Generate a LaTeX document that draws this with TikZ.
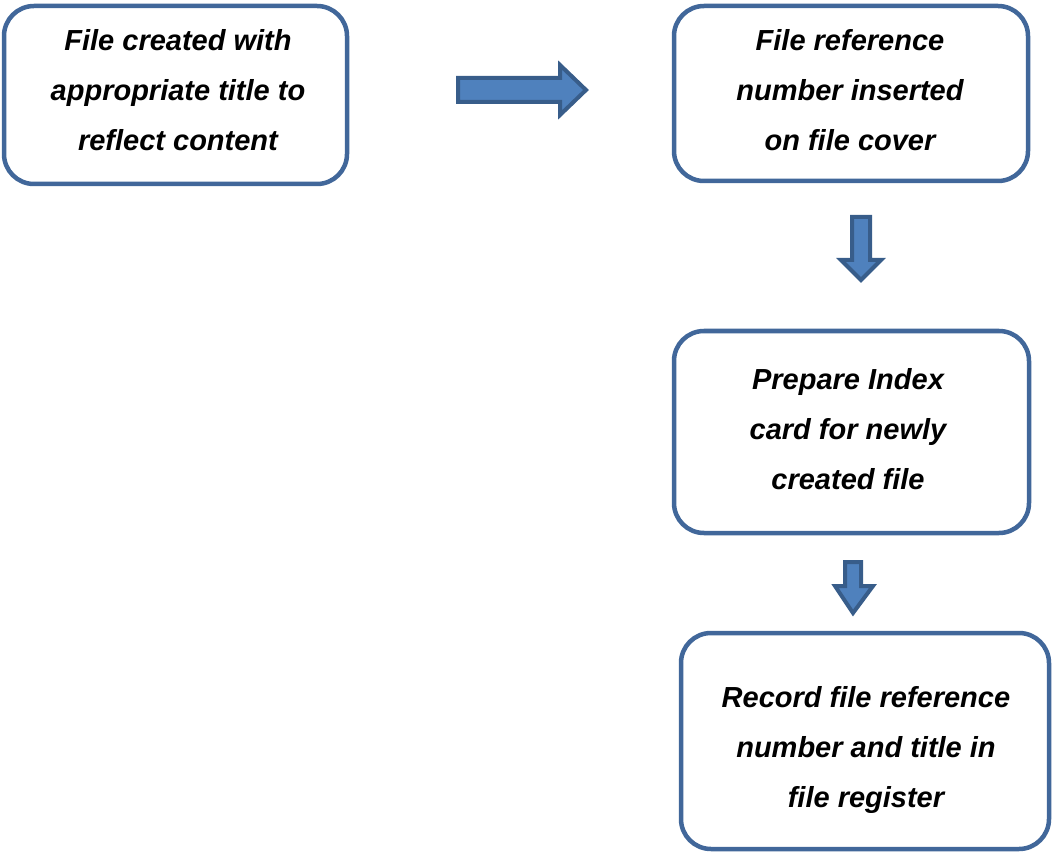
\documentclass[tikz,border=0pt]{standalone}
\usepackage{fontspec}
\setmainfont{Liberation Sans}
\definecolor{boxline}{HTML}{41679A}
\definecolor{arrowfill}{HTML}{4F81BD}
\definecolor{arrowline}{HTML}{385D8A}
\begin{document}
\begin{tikzpicture}[x=1pt,y=-1pt,
  stepbox/.style={draw=boxline, line width=4.5pt, rounded corners=30pt, fill=white},
  steptext/.style={align=center, font=\fontsize{29}{50}\selectfont\bfseries\itshape, inner sep=0pt},
  blockarrow/.style={fill=arrowfill, draw=arrowline, line width=4pt, line join=miter}]
\useasboundingbox (0,0) rectangle (1053,853);

% process boxes
\draw[stepbox] (4,6) rectangle (347,184);
\draw[stepbox] (674,6) rectangle (1028,181);
\draw[stepbox] (674,331) rectangle (1029,533);
\draw[stepbox] (681,633) rectangle (1049,849);

\node[steptext] (created) at (178,90) {File created with\\appropriate title to\\reflect content};
\node[steptext] (refno) at (850,90) {File reference\\number inserted\\on file cover};
\node[steptext] (index) at (848,429) {Prepare Index\\card for newly\\created file};
\begin{scope}
  \clip (681,633) rectangle (1049,812);
  \node[steptext] (register) at (866,750) {Record file reference\\number and title in\\file register};
\end{scope}

% block arrows between the steps
\draw[blockarrow] (458,78) -- (560,78) -- (560,65) -- (586,90) -- (560,115) -- (560,102) -- (458,102) -- cycle;
\draw[blockarrow] (852,217) -- (870,217) -- (870,260) -- (881,260) -- (861,280) -- (841,260) -- (852,260) -- cycle;
\draw[blockarrow] (845,562) -- (861,562) -- (861,586) -- (873,586) -- (853,613) -- (835,586) -- (845,586) -- cycle;
\end{tikzpicture}
\end{document}
